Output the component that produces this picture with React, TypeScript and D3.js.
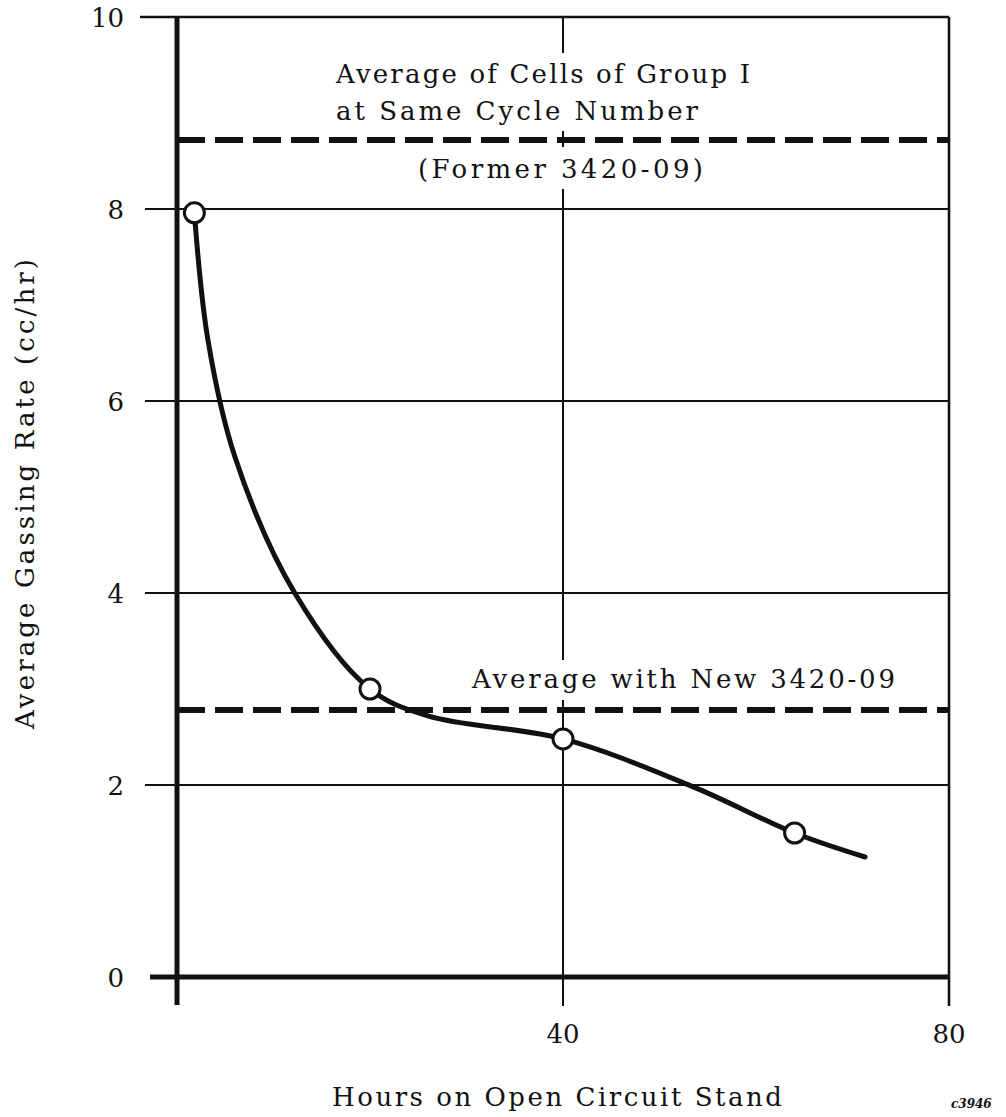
import React from "react";
import * as d3 from "d3";

const W = 1006;
const H = 1117;

const xTicks = [0, 40, 80];
const xTickLabels = ["", "40", "80"];
const yTicks = [0, 2, 4, 6, 8, 10];
const yTickLabels = ["0", "2", "4", "6", "8", "10"];

// measured points (hours, cc/hr)
const pointHours = [1.8, 20, 40, 64];
const pointRates = [7.96, 3.0, 2.48, 1.5];

// hand-drawn smooth curve
const curveHours = [1.8, 3.2, 6.0, 12.2, 20, 26, 40, 53.5, 64, 71.3];
const curveRates = [7.96, 6.64, 5.42, 4.0, 3.0, 2.72, 2.48, 1.98, 1.5, 1.25];

// reference dashed levels
const refLevels = [8.72, 2.78];

const FONT = "'DejaVu Serif', serif";
const FS = 26;

export default function App() {
  const x = d3.scaleLinear().domain([0, 80]).range([177, 949]);
  const y = d3.scaleLinear().domain([0, 10]).range([977, 17]);

  const line = d3
    .line<number>()
    .x((_, i) => x(curveHours[i]))
    .y((d) => y(d))
    .curve(d3.curveCatmullRom.alpha(0.5));

  const ink = "#111";

  return (
    <svg
      width={W}
      height={H}
      viewBox={`0 0 ${W} ${H}`}
      style={{ position: "absolute", left: 0, top: 0, background: "#fff" }}
    >
      <rect x={0} y={0} width={W} height={H} fill="#fff" />

      {/* horizontal gridlines */}
      {yTicks.map((t) => {
        if (t === 0) return null;
        const left = t === 10 ? 140 : 145;
        return (
          <line
            key={"hg" + t}
            x1={left}
            x2={x(80)}
            y1={y(t)}
            y2={y(t)}
            stroke={ink}
            strokeWidth={t === 10 ? 2.6 : 2.2}
          />
        );
      })}

      {/* vertical gridline at 40 and right border at 80 */}
      <line x1={x(40)} x2={x(40)} y1={y(10)} y2={y(0) + 29} stroke={ink} strokeWidth={2} />
      <line x1={x(80)} x2={x(80)} y1={y(10)} y2={y(0) + 29} stroke={ink} strokeWidth={2.6} />

      {/* white masks behind annotation text (gaps in the 40 gridline) */}
      <rect x={330} y={53} width={430} height={78} fill="#fff" />
      <rect x={410} y={147} width={300} height={42} fill="#fff" />
      <rect x={465} y={660} width={440} height={40} fill="#fff" />

      {/* dashed reference lines */}
      {refLevels.map((v, i) => (
        <line
          key={"ref" + i}
          x1={x(0)}
          x2={x(80)}
          y1={y(v)}
          y2={y(v)}
          stroke={ink}
          strokeWidth={6}
          strokeDasharray="28 10"
          strokeLinecap="butt"
        />
      ))}

      {/* axes (thick) */}
      <line x1={150} x2={x(80)} y1={y(0)} y2={y(0)} stroke={ink} strokeWidth={5} />
      <line x1={x(0)} x2={x(0)} y1={y(10)} y2={y(0) + 28} stroke={ink} strokeWidth={5} />
      <line x1={x(0) + 1} x2={x(0) + 1} y1={y(0)} y2={y(0) + 28} stroke={ink} strokeWidth={2} />

      {/* curve */}
      <path d={line(curveRates) || ""} fill="none" stroke={ink} strokeWidth={5} strokeLinecap="round" />

      {/* points */}
      {pointHours.map((h, i) => (
        <circle key={"p" + i} cx={x(h)} cy={y(pointRates[i])} r={10} fill="#fff" stroke={ink} strokeWidth={3} />
      ))}

      {/* y tick labels */}
      {yTicks.map((t, i) => (
        <text
          key={"yl" + t}
          x={124}
          y={y(t) + 10}
          textAnchor="end"
          fontFamily={FONT}
          fontSize={FS}
          fill={ink}
        >
          {yTickLabels[i]}
        </text>
      ))}

      {/* x tick labels */}
      {xTicks.map((t, i) =>
        xTickLabels[i] ? (
          <text
            key={"xl" + t}
            x={x(t)}
            y={1043}
            textAnchor="middle"
            fontFamily={FONT}
            fontSize={FS}
            fill={ink}
          >
            {xTickLabels[i]}
          </text>
        ) : null
      )}

      {/* annotations */}
      <text x={336} y={83} fontFamily={FONT} fontSize={FS} fill={ink} textLength={414} lengthAdjust="spacing">
        Average of Cells of Group I
      </text>
      <text x={336} y={120} fontFamily={FONT} fontSize={FS} fill={ink} textLength={362} lengthAdjust="spacing">
        at Same Cycle Number
      </text>
      <text x={418} y={178} fontFamily={FONT} fontSize={FS} fill={ink} textLength={285} lengthAdjust="spacing">
        (Former 3420-09)
      </text>
      <text x={472} y={688} fontFamily={FONT} fontSize={FS} fill={ink} textLength={423} lengthAdjust="spacing">
        Average with New 3420-09
      </text>

      {/* axis titles */}
      <text
        transform={`translate(34, 494) rotate(-90)`}
        textAnchor="middle"
        fontFamily={FONT}
        fontSize={FS}
        fill={ink}
        textLength={470}
        lengthAdjust="spacing"
      >
        Average Gassing Rate (cc/hr)
      </text>
      <text x={332} y={1106} fontFamily={FONT} fontSize={FS} fill={ink} textLength={450} lengthAdjust="spacing">
        Hours on Open Circuit Stand
      </text>

      {/* drawing number */}
      <text x={951} y={1108} fontFamily={FONT} fontSize={12} fontStyle="italic" fontWeight="bold" fill={ink}>
        c3946
      </text>
    </svg>
  );
}
